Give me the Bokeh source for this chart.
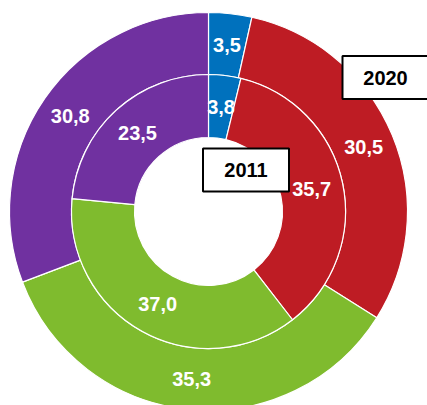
import math
from bokeh.plotting import figure
from bokeh.models import Range1d, ColumnDataSource
from bokeh.core.properties import value
from bokeh.embed import file_html
from bokeh.resources import INLINE

# Data
categories = ["Blue", "Red", "Green", "Purple"]
values_2020 = [3.5, 30.5, 35.3, 30.8]   # outer ring
values_2011 = [3.8, 35.7, 37.0, 23.5]   # inner ring
colors = ["#0071bd", "#be1c24", "#7fbb2e", "#7031a0"]
year_labels = ["2020", "2011"]

W, H = 427, 405
CX, CY = 208, 211
p = figure(width=W, height=H, x_range=Range1d(-CX, W - CX), y_range=Range1d(CY - H, CY),
           output_backend="svg", toolbar_location=None,
           x_axis_location=None, y_axis_location=None, min_border=0)
p.outline_line_color = None
p.grid.visible = False
p.background_fill_color = "white"
p.border_fill_color = "white"

R_HOLE, R_MID, R_OUT = 74, 137, 199


def ring(vals, r0, r1):
    total = sum(vals)
    starts, ends, lx, ly, txt = [], [], [], [], []
    cum = 0.0
    for v in vals:
        a0 = math.pi / 2 - 2 * math.pi * (cum + v) / total
        a1 = math.pi / 2 - 2 * math.pi * cum / total
        starts.append(a0)
        ends.append(a1)
        mid = (a0 + a1) / 2
        rm = (r0 + r1) / 2
        lx.append(rm * math.cos(mid))
        ly.append(rm * math.sin(mid))
        txt.append(f"{v:.1f}".replace(".", ","))
        cum += v
    src = ColumnDataSource(dict(start=starts, end=ends, color=colors, lx=lx, ly=ly, txt=txt))
    p.annular_wedge(x=0, y=0, inner_radius=r0, outer_radius=r1, start_angle="start",
                    end_angle="end", fill_color="color", line_color="white", line_width=1.2,
                    source=src)
    return src


src_out = ring(values_2020, R_MID, R_OUT)
src_in = ring(values_2011, R_HOLE, R_MID)

for src in (src_out, src_in):
    p.text(x="lx", y="ly", text="txt", source=src, text_color="white",
           text_font=value("Liberation Sans"), text_font_style="bold",
           text_font_size="20px", text_align="center", text_baseline="middle")

# Year boxes
bx = [177, 37.5]
by = [134, 41.5]
p.rect(x=bx, y=by, width=86, height=43, fill_color="white", line_color="black", line_width=2)
p.text(x=bx, y=by, text=year_labels, text_color="black",
       text_font=value("Liberation Sans"), text_font_style="bold",
       text_font_size="20px", text_align="center", text_baseline="middle")

open("out.html", "w").write(file_html(p, INLINE))
